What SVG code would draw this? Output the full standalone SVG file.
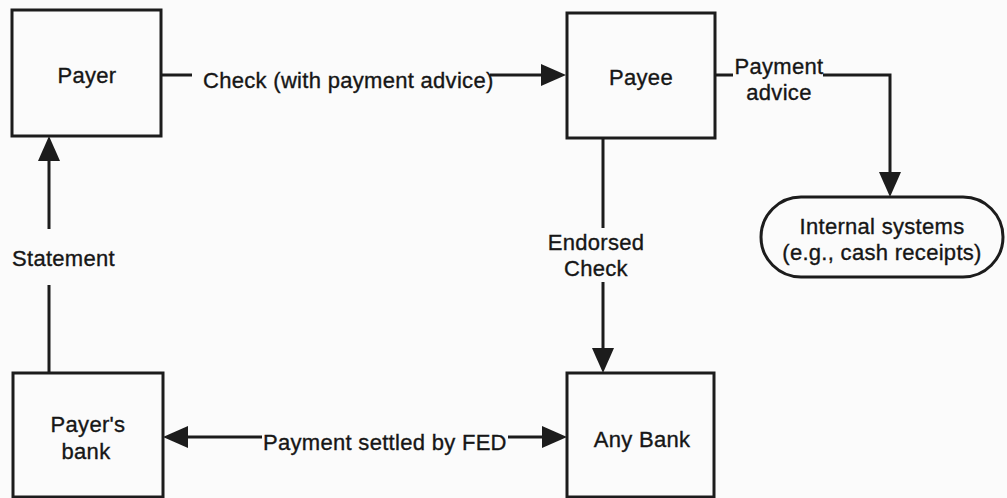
<svg xmlns="http://www.w3.org/2000/svg" width="1007" height="498" viewBox="0 0 1007 498">
  <style>
    .box { fill: none; stroke: #1c1c1c; stroke-width: 3; }
    .lbl { font-family: "Liberation Sans", Arial, sans-serif; font-size: 22px; fill: #161616; stroke: #161616; stroke-width: 0.35px; letter-spacing: 0.3px; }
    .mid { text-anchor: middle; }
    .conn { fill: none; stroke: #1c1c1c; stroke-width: 3; }
  </style>
  <defs>
    <marker id="arrow" viewBox="0 0 25 22" refX="0" refY="11" markerWidth="25" markerHeight="22" markerUnits="userSpaceOnUse" orient="auto-start-reverse">
      <path d="M0,0 L25,11 L0,22 z" fill="#1c1c1c"/>
    </marker>
  </defs>
  <rect width="1007" height="498" fill="#fbfbfb"/>

  <g id="connectors">
    <g id="c-check">
      <path class="conn" d="M161,75 H192 M490,75 H541" marker-end="url(#arrow)"/>
      <text class="lbl" x="203" y="88">Check (with payment advice)</text>
    </g>
    <g id="c-advice">
      <path class="conn" d="M715,75 H733 M823,75 H890 V172" marker-end="url(#arrow)"/>
      <text class="lbl mid" x="779" y="74">Payment</text>
      <text class="lbl mid" x="779" y="100">advice</text>
    </g>
    <g id="c-endorsed">
      <path class="conn" d="M603,138 V228 M603,282 V348" marker-end="url(#arrow)"/>
      <text class="lbl mid" x="596" y="250">Endorsed</text>
      <text class="lbl mid" x="596" y="276">Check</text>
    </g>
    <g id="c-statement">
      <path class="conn" d="M49,373 V285 M49,229 V161" marker-end="url(#arrow)"/>
      <text class="lbl" x="12" y="266">Statement</text>
    </g>
    <g id="c-fed">
      <path class="conn" d="M188,437 H262 M508,437 H542" marker-start="url(#arrow)" marker-end="url(#arrow)"/>
      <text class="lbl" x="263" y="450">Payment settled by FED</text>
    </g>
  </g>

  <g id="payer">
    <rect class="box" x="12" y="10" width="149" height="126"/>
    <text class="lbl mid" x="87" y="83">Payer</text>
  </g>
  <g id="payee">
    <rect class="box" x="567" y="13" width="148" height="125"/>
    <text class="lbl mid" x="641" y="85">Payee</text>
  </g>
  <g id="internal-systems">
    <rect class="box" x="761" y="197" width="242" height="80" rx="40" ry="40"/>
    <text class="lbl mid" x="882" y="234">Internal systems</text>
    <text class="lbl mid" x="882" y="260">(e.g., cash receipts)</text>
  </g>
  <g id="payers-bank">
    <rect class="box" x="13" y="373" width="150" height="124"/>
    <text class="lbl mid" x="88" y="432">Payer's</text>
    <text class="lbl mid" x="86" y="459">bank</text>
  </g>
  <g id="any-bank">
    <rect class="box" x="567" y="373" width="147" height="124"/>
    <text class="lbl mid" x="642" y="447">Any Bank</text>
  </g>
</svg>
